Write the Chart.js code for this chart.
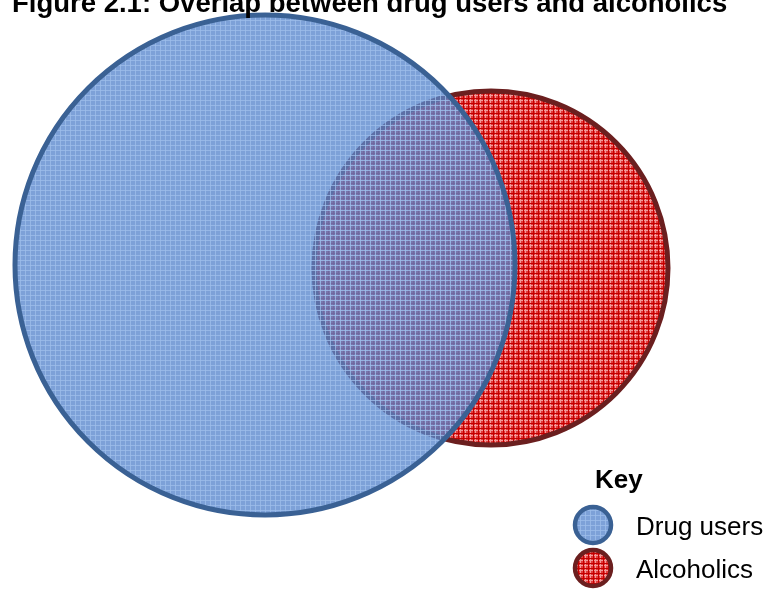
<!DOCTYPE html>
<html>
<head>
<meta charset="utf-8">
<script src="https://cdn.jsdelivr.net/npm/chart.js@4.4.1/dist/chart.umd.min.js"></script>
<style>
  html, body { margin: 0; padding: 0; background: #ffffff; }
  #wrap { width: 771px; height: 592px; position: relative; }
</style>
</head>
<body>
<div id="wrap"><canvas id="c" width="771" height="592"></canvas></div>
<script>
// ---- data ----
const chartTitle = 'Figure 2.1: Overlap between drug users and alcoholics';
const legendTitle = 'Key';
const setLabels = ['Drug users', 'Alcoholics'];
const centreX = [265, 491];
const centreY = [265, 268];
const setRadius = [250, 177];

// ---- styles ----
function makePattern(base, light, dark) {
  const size = 5;
  const c = document.createElement('canvas');
  c.width = size; c.height = size;
  const g = c.getContext('2d');
  g.fillStyle = base; g.fillRect(0, 0, size, size);
  g.fillStyle = light;
  g.fillRect(0, 0, size, 1); g.fillRect(0, 0, 1, size);
  if (dark) {
    g.fillStyle = dark;
    g.fillRect(0, 3, size, 1); g.fillRect(3, 0, 1, size);
  }
  return g.createPattern(c, 'repeat');
}
const ctx0 = document.getElementById('c').getContext('2d');
const fills = [
  makePattern('rgba(88,135,205,0.78)', 'rgba(158,190,234,0.78)', null),
  makePattern('#e23c3c', '#f29a9a', '#c40000')
];
const strokes = ['#3a6194', '#6b1f1f'];

const datasets = setLabels.map((lab, i) => ({
  label: lab,
  data: [{ x: centreX[i], y: centreY[i] }],
  backgroundColor: fills[i],
  borderColor: strokes[i],
  pointBackgroundColor: fills[i],
  pointBorderColor: strokes[i],
  pointBorderWidth: 5,
  pointRadius: (ctx) => {
    const s = ctx.chart.scales.x;
    return s.getPixelForValue(setRadius[ctx.datasetIndex]) - s.getPixelForValue(0);
  },
  clip: false
}));

const overlay = {
  id: 'overlay',
  afterDraw(chart) {
    const g = chart.ctx;
    g.save();
    g.fillStyle = '#000000';
    g.textBaseline = 'alphabetic';
    g.textAlign = 'left';
    g.font = 'bold 27.5px "Liberation Sans", Arial, sans-serif';
    g.fillText(chartTitle, 12, 12);
    g.font = 'bold 26px "Liberation Sans", Arial, sans-serif';
    g.fillText(legendTitle, 595, 488);
    const rowsY = [525, 568];
    chart.data.datasets.forEach((ds, i) => {
      const cy = rowsY[i];
      g.beginPath();
      g.arc(593, cy, 18, 0, Math.PI * 2);
      g.fillStyle = '#ffffff';
      g.fill();
      g.fillStyle = ds.pointBackgroundColor;
      g.fill();
      g.lineWidth = 4.5;
      g.strokeStyle = ds.pointBorderColor;
      g.stroke();
      g.fillStyle = '#000000';
      g.font = '26px "Liberation Sans", Arial, sans-serif';
      g.fillText(ds.label, 636, cy + 10);
    });
    g.restore();
  }
};

new Chart(ctx0, {
  type: 'scatter',
  data: { datasets },
  options: {
    responsive: false,
    animation: false,
    events: [],
    layout: { padding: 0 },
    plugins: { legend: { display: false }, title: { display: false }, tooltip: { enabled: false } },
    scales: {
      x: { type: 'linear', min: 0, max: 771, display: false },
      y: { type: 'linear', min: 0, max: 592, reverse: true, display: false }
    }
  },
  plugins: [overlay]
});
</script>
</body>
</html>
